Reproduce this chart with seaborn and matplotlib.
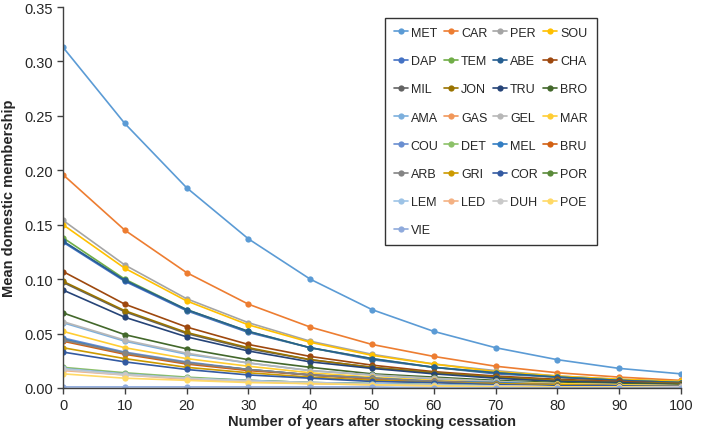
import matplotlib
matplotlib.use("Agg")
import matplotlib.pyplot as plt
import seaborn as sns
import pandas as pd

years = [0, 10, 20, 30, 40, 50, 60, 70, 80, 90, 100]

names = ["MET", "CAR", "PER", "SOU", "DAP", "TEM", "ABE", "CHA", "MIL", "JON",
         "TRU", "BRO", "AMA", "GAS", "GEL", "MAR", "COU", "DET", "MEL", "BRU",
         "ARB", "GRI", "COR", "POR", "LEM", "LED", "DUH", "POE", "VIE"]

colors = ["#5B9BD5", "#ED7D31", "#A5A5A5", "#FFC000", "#4472C4", "#70AD47",
          "#255E91", "#9E480E", "#636363", "#997300", "#264478", "#43682B",
          "#7CAFDD", "#F1975A", "#B7B7B7", "#FFCD33", "#698ED0", "#8CC168",
          "#327DC2", "#D26012", "#848484", "#CC9A00", "#335AA1", "#5A8A39",
          "#9DC3E6", "#F4B183", "#C9C9C9", "#FFD966", "#8FAADC"]

MET = [0.313, 0.243, 0.184, 0.137, 0.100, 0.072, 0.052, 0.037, 0.026, 0.018, 0.013]
CAR = [0.196, 0.145, 0.106, 0.077, 0.056, 0.040, 0.029, 0.020, 0.014, 0.010, 0.007]
PER = [0.154, 0.113, 0.082, 0.060, 0.043, 0.031, 0.022, 0.016, 0.011, 0.008, 0.006]
SOU = [0.150, 0.110, 0.080, 0.058, 0.042, 0.030, 0.022, 0.015, 0.011, 0.008, 0.006]
DAP = [0.134, 0.098, 0.071, 0.051, 0.037, 0.026, 0.019, 0.013, 0.010, 0.007, 0.005]
TEM = [0.138, 0.100, 0.072, 0.052, 0.037, 0.027, 0.019, 0.014, 0.010, 0.007, 0.005]
ABE = [0.135, 0.099, 0.072, 0.052, 0.037, 0.027, 0.019, 0.014, 0.010, 0.007, 0.005]
CHA = [0.107, 0.077, 0.056, 0.040, 0.029, 0.021, 0.015, 0.011, 0.008, 0.006, 0.004]
MIL = [0.097, 0.070, 0.050, 0.036, 0.026, 0.019, 0.014, 0.010, 0.007, 0.005, 0.004]
JON = [0.098, 0.071, 0.051, 0.037, 0.026, 0.019, 0.014, 0.010, 0.007, 0.005, 0.004]
TRU = [0.090, 0.065, 0.047, 0.034, 0.024, 0.018, 0.013, 0.009, 0.006, 0.005, 0.003]
BRO = [0.069, 0.049, 0.036, 0.026, 0.019, 0.013, 0.010, 0.007, 0.005, 0.004, 0.003]
AMA = [0.060, 0.043, 0.031, 0.023, 0.016, 0.012, 0.008, 0.006, 0.004, 0.003, 0.002]
GAS = [0.044, 0.032, 0.023, 0.017, 0.012, 0.009, 0.006, 0.004, 0.003, 0.002, 0.002]
GEL = [0.061, 0.044, 0.032, 0.023, 0.016, 0.012, 0.009, 0.006, 0.004, 0.003, 0.002]
MAR = [0.052, 0.037, 0.027, 0.020, 0.014, 0.010, 0.007, 0.005, 0.004, 0.003, 0.002]
COU = [0.046, 0.033, 0.024, 0.017, 0.012, 0.009, 0.006, 0.005, 0.003, 0.002, 0.002]
DET = [0.019, 0.014, 0.010, 0.007, 0.005, 0.004, 0.003, 0.002, 0.001, 0.001, 0.001]
MEL = [0.045, 0.032, 0.023, 0.017, 0.012, 0.009, 0.006, 0.005, 0.003, 0.002, 0.002]
BRU = [0.043, 0.031, 0.022, 0.016, 0.012, 0.008, 0.006, 0.004, 0.003, 0.002, 0.002]
ARB = [0.044, 0.032, 0.023, 0.017, 0.012, 0.009, 0.006, 0.004, 0.003, 0.002, 0.002]
GRI = [0.037, 0.027, 0.019, 0.014, 0.010, 0.007, 0.005, 0.004, 0.003, 0.002, 0.001]
COR = [0.033, 0.024, 0.017, 0.012, 0.009, 0.006, 0.005, 0.003, 0.002, 0.002, 0.001]
POR = [0.018, 0.013, 0.009, 0.007, 0.005, 0.004, 0.003, 0.002, 0.001, 0.001, 0.001]
LEM = [0.018, 0.013, 0.009, 0.007, 0.005, 0.004, 0.003, 0.002, 0.001, 0.001, 0.001]
LED = [0.016, 0.012, 0.008, 0.006, 0.004, 0.003, 0.002, 0.002, 0.001, 0.001, 0.001]
DUH = [0.017, 0.012, 0.009, 0.006, 0.005, 0.003, 0.002, 0.002, 0.001, 0.001, 0.001]
POE = [0.013, 0.009, 0.007, 0.005, 0.004, 0.003, 0.002, 0.001, 0.001, 0.001, 0.000]
VIE = [0.001, 0.001, 0.001, 0.001, 0.001, 0.001, 0.000, 0.000, 0.000, 0.000, 0.000]

series = [MET, CAR, PER, SOU, DAP, TEM, ABE, CHA, MIL, JON, TRU, BRO, AMA, GAS,
          GEL, MAR, COU, DET, MEL, BRU, ARB, GRI, COR, POR, LEM, LED, DUH, POE, VIE]

rows = []
for name, vals in zip(names, series):
    for yr, v in zip(years, vals):
        rows.append({"year": yr, "value": v, "site": name})
df = pd.DataFrame(rows)

sns.set_style("white")
plt.rcParams["font.family"] = ["Liberation Sans", "DejaVu Sans"]

fig = plt.figure(figsize=(7.09, 4.35), dpi=100)
ax = fig.add_axes([63 / 709, 46 / 435, 618 / 709, 381 / 435])

sns.lineplot(data=df, x="year", y="value", hue="site", hue_order=names,
             palette=colors, marker="o", markersize=4.5, markeredgewidth=0,
             linewidth=1.2, legend=False, ax=ax)

ax.set_xlim(0, 100)
ax.set_ylim(0, 0.35)
ax.set_xticks(years)
ax.set_yticks([0, 0.05, 0.10, 0.15, 0.20, 0.25, 0.30, 0.35])
ax.set_yticklabels(["0.00", "0.05", "0.10", "0.15", "0.20", "0.25", "0.30", "0.35"])
ax.tick_params(axis="both", labelsize=10.5, direction="out", length=4,
               width=1, color="#404040", left=True, bottom=True, pad=3)
ax.set_xlabel("Number of years after stocking cessation", fontsize=10.5,
              fontweight="bold", labelpad=2)
ax.set_ylabel("Mean domestic membership", fontsize=10.5, fontweight="bold",
              labelpad=6)
sns.despine(ax=ax)
for s in ["left", "bottom"]:
    ax.spines[s].set_color("#404040")
    ax.spines[s].set_linewidth(1)

# legend: excel style row-major order, 4 columns
lines = ax.get_lines()[:len(names)]
order = []
for c in range(4):
    order += list(range(c, len(names), 4))
handles = [lines[i] for i in order]
labels = [names[i] for i in order]
leg = fig.legend(handles, labels, ncol=4, loc="upper left",
                 bbox_to_anchor=(385 / 709, 1 - 19 / 435), fontsize=9,
                 frameon=True, fancybox=False, framealpha=1,
                 edgecolor="#333333", handlelength=1.1, handletextpad=0.25,
                 columnspacing=0.45, labelspacing=1.3, borderpad=0.7,
                 borderaxespad=0)
leg.get_frame().set_linewidth(1)

fig.savefig("out.png", dpi=100)
